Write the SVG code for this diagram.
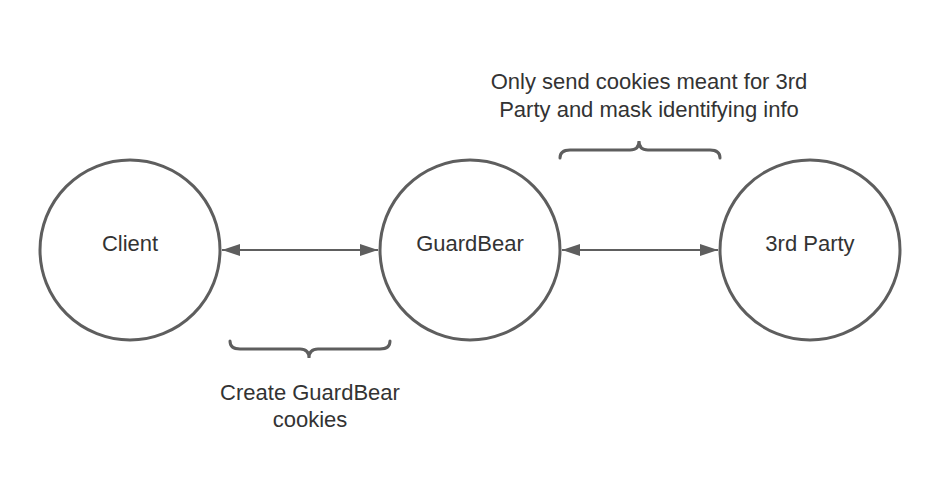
<svg xmlns="http://www.w3.org/2000/svg" width="940" height="495" viewBox="0 0 940 495">
<defs>
<style>
.node{fill:#fff;stroke:#5e5e5e;stroke-width:3}
.lbl{font-family:"Liberation Sans",Arial,sans-serif;font-size:22px;fill:#333;text-anchor:middle}
.conn{stroke:#5e5e5e;stroke-width:2;fill:none}
.brace{stroke:#5e5e5e;stroke-width:3;fill:none;stroke-linecap:round}
</style>
<marker id="ah" viewBox="0 0 18 12" refX="18" refY="6" markerWidth="18" markerHeight="12" markerUnits="userSpaceOnUse" orient="auto-start-reverse">
<path d="M0,0 L18,6 L0,12 Z" fill="#5e5e5e"/>
</marker>
</defs>
<rect width="940" height="495" fill="#fff"/>
<g id="client">
<circle class="node" cx="130" cy="250" r="90"/>
<text class="lbl" x="130" y="245" dominant-baseline="middle">Client</text>
</g>
<g id="guardbear">
<circle class="node" cx="470" cy="250" r="90"/>
<text class="lbl" x="470" y="245" dominant-baseline="middle">GuardBear</text>
</g>
<g id="thirdparty">
<circle class="node" cx="810" cy="250" r="90"/>
<text class="lbl" x="810" y="245" dominant-baseline="middle">3rd Party</text>
</g>
<g id="connectors">
<line class="conn" x1="222" y1="250" x2="378" y2="250" marker-start="url(#ah)" marker-end="url(#ah)"/>
<line class="conn" x1="562" y1="250" x2="718" y2="250" marker-start="url(#ah)" marker-end="url(#ah)"/>
</g>
<g id="brace-bottom">
<path class="brace" d="M230,341 Q230,349 240,349 L300,349 Q309,349 309,358 Q309,349 318,349 L380,349 Q390,349 390,341"/>
<text class="lbl" x="310" y="400">Create GuardBear</text>
<text class="lbl" x="310" y="427">cookies</text>
</g>
<g id="brace-top">
<path class="brace" d="M560,158 Q560,150 570,150 L630,150 Q639,150 639,141 Q639,150 648,150 L710,150 Q720,150 720,158"/>
<text class="lbl" x="649" y="89">Only send cookies meant for 3rd</text>
<text class="lbl" x="649" y="117">Party and mask identifying info</text>
</g>
</svg>
